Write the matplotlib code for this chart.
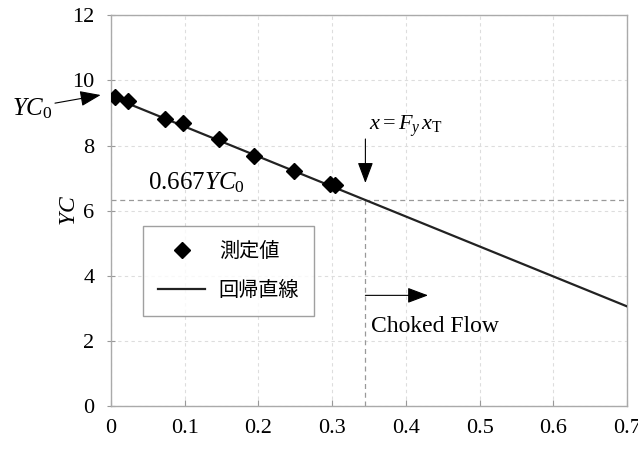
import matplotlib
matplotlib.use("Agg")
import matplotlib.pyplot as plt

# data
meas_x = [0.006, 0.023, 0.073, 0.097, 0.146, 0.194, 0.248, 0.297, 0.304]
meas_y = [9.50, 9.38, 8.82, 8.70, 8.20, 7.68, 7.22, 6.82, 6.78]
reg_x = [0.0, 0.7]
reg_y = [9.50, 3.06]
yc0 = 9.50
yc_choke = 6.33
x_choke = 0.345
xticks = [0, 0.1, 0.2, 0.3, 0.4, 0.5, 0.6, 0.7]
xtick_labels = ["0", "0.1", "0.2", "0.3", "0.4", "0.5", "0.6", "0.7"]
yticks = [0, 2, 4, 6, 8, 10, 12]
legend_labels = ["測定値", "回帰直線"]

serif = ["Liberation Serif", "DejaVu Serif"]
cjk = ["Noto Sans CJK JP", "DejaVu Sans"]
plt.rcParams["font.family"] = serif
plt.rcParams["mathtext.fontset"] = "custom"
plt.rcParams["mathtext.rm"] = "Liberation Serif"
plt.rcParams["mathtext.it"] = "Liberation Serif:italic"

fig = plt.figure(figsize=(6.38, 4.75), dpi=100)
ax = fig.add_axes([0.174, 0.145, 0.809, 0.823])

ax.set_xlim(0, 0.7)
ax.set_ylim(0, 12)
ax.set_xticks(xticks)
ax.set_xticklabels(xtick_labels)
ax.set_yticks(yticks)
ax.tick_params(axis="x", labelsize=16, direction="in", length=4, color="#999999", pad=9)
ax.tick_params(axis="y", labelsize=16, direction="inout", length=6, color="#999999", pad=9)
for s in ax.spines.values():
    s.set_color("#aaaaaa")
    s.set_linewidth(1.0)
ax.grid(True, color="#dddddd", linestyle=(0, (3, 3)), linewidth=0.8)
ax.set_axisbelow(True)

# dashed guide lines
ax.axhline(yc_choke, color="#999999", linestyle=(0, (4, 3)), linewidth=0.9)
ax.plot([x_choke, x_choke], [0, yc_choke], color="#999999", linestyle=(0, (4, 3)), linewidth=0.9)

line, = ax.plot(reg_x, reg_y, color="#222222", linewidth=1.6, label=legend_labels[1], zorder=3)
pts, = ax.plot(meas_x, meas_y, linestyle="none", marker="D", markersize=8,
               color="black", label=legend_labels[0], zorder=4)

ax.set_ylabel("$YC$", fontsize=17, labelpad=-6)

leg = ax.legend(handles=[pts, line], loc="upper left", bbox_to_anchor=(0.043, 0.487),
                prop={"family": cjk, "size": 14.5}, frameon=True, fancybox=False,
                edgecolor="#888888", handlelength=2.3, borderpad=0.75, labelspacing=0.9,
                handletextpad=0.7)
leg.get_frame().set_linewidth(1.0)

ap = dict(arrowstyle="-|>,head_length=0.8,head_width=0.3", color="black", lw=0.8,
          mutation_scale=16, shrinkA=0, shrinkB=0)
# YC0 label and arrow
ax.text(-0.107, 9.12, "$YC_0$", fontsize=18, ha="center", va="center", clip_on=False)
ax.annotate("", xy=(-0.014, 9.55), xytext=(-0.076, 9.3), arrowprops=ap,
            annotation_clip=False)
# x = Fy xT
ax.annotate("", xy=(x_choke, 6.85), xytext=(x_choke, 8.2), arrowprops=ap)
ax.text(x_choke + 0.005, 8.6, "$x=F_y\\,x_\\mathrm{T}$", fontsize=16, ha="left", va="center")
ax.text(0.05, 6.85, "$0.667YC_0$", fontsize=18, ha="left", va="center")
# choked flow
ax.annotate("", xy=(0.43, 3.4), xytext=(x_choke, 3.4), arrowprops=ap)
ax.text(x_choke + 0.008, 2.45, "Choked Flow", fontsize=17, ha="left", va="center")

fig.savefig("out.png", dpi=100)
